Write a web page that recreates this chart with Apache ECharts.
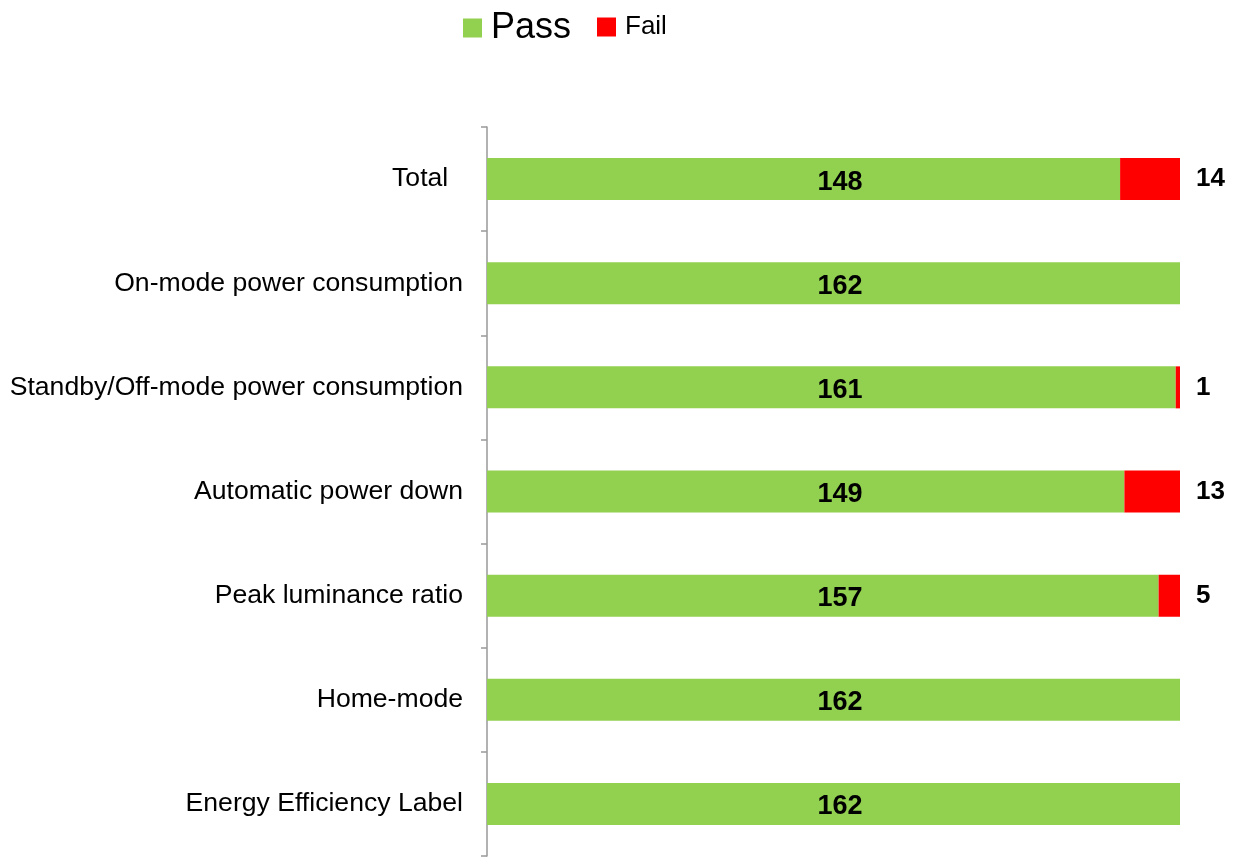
<!DOCTYPE html>
<html>
<head>
<meta charset="utf-8">
<script src="https://cdn.jsdelivr.net/npm/echarts@6/dist/echarts.min.js"></script>
<style>
  html, body { margin: 0; padding: 0; background: #fff; }
  #content { width: 1239px; height: 858px; }
</style>
</head>
<body>
<div id="content"></div>
<script>
var categories = ["Total  ", "On-mode power consumption", "Standby/Off-mode power consumption",
  "Automatic power down", "Peak luminance ratio", "Home-mode", "Energy Efficiency Label"];
var passData = [148, 162, 161, 149, 157, 162, 162];
var failData = [14, 0, 1, 13, 5, 0, 0];
var axisMax = 162;

var myChart = echarts.init(document.getElementById("content"));
var font = "Liberation Sans, Arial, sans-serif";

var option = {
  animation: false,
  textStyle: { fontFamily: font },
  legend: [
    {
      data: ["Pass"],
      left: 458,
      top: 5,
      itemWidth: 19,
      itemHeight: 19,
      icon: "rect",
      textStyle: { fontSize: 36, color: "#000", padding: [0, 0, 0, 4] },
    },
    {
      data: ["Fail"],
      left: 592,
      top: 9,
      itemWidth: 19,
      itemHeight: 19,
      icon: "rect",
      textStyle: { fontSize: 26, color: "#000", padding: [0, 0, 0, 4] },
    },
  ],
  grid: {
    left: 487,
    right: 59,
    top: 127,
    bottom: 2,
    containLabel: false,
  },
  xAxis: {
    type: "value",
    min: 0,
    max: axisMax,
    show: false,
  },
  yAxis: {
    type: "category",
    inverse: true,
    data: categories,
    axisLine: { lineStyle: { color: "#999", width: 1.5 } },
    axisTick: { show: true, length: 6, lineStyle: { color: "#999", width: 1.5 } },
    axisLabel: { margin: 24, fontSize: 26.6, color: "#000", fontFamily: font },
  },
  series: [
    {
      name: "Pass",
      type: "bar",
      stack: "all",
      barWidth: 42,
      data: passData,
      itemStyle: { color: "#92D050" },
      label: {
        show: true,
        position: [353, 24],
        align: "center",
        verticalAlign: "middle",
        fontSize: 27,
        fontWeight: "bold",
        color: "#000",
        fontFamily: font,
      },
    },
    {
      name: "Fail",
      type: "bar",
      stack: "all",
      barWidth: 42,
      data: failData,
      itemStyle: { color: "#FF0000" },
      label: {
        show: true,
        position: "right",
        distance: 16,
        fontSize: 26,
        fontWeight: "bold",
        color: "#000",
        fontFamily: font,
        formatter: function (params) {
          return params.value > 0 ? params.value : "";
        },
      },
    },
  ],
};
myChart.setOption(option);
</script>
</body>
</html>
